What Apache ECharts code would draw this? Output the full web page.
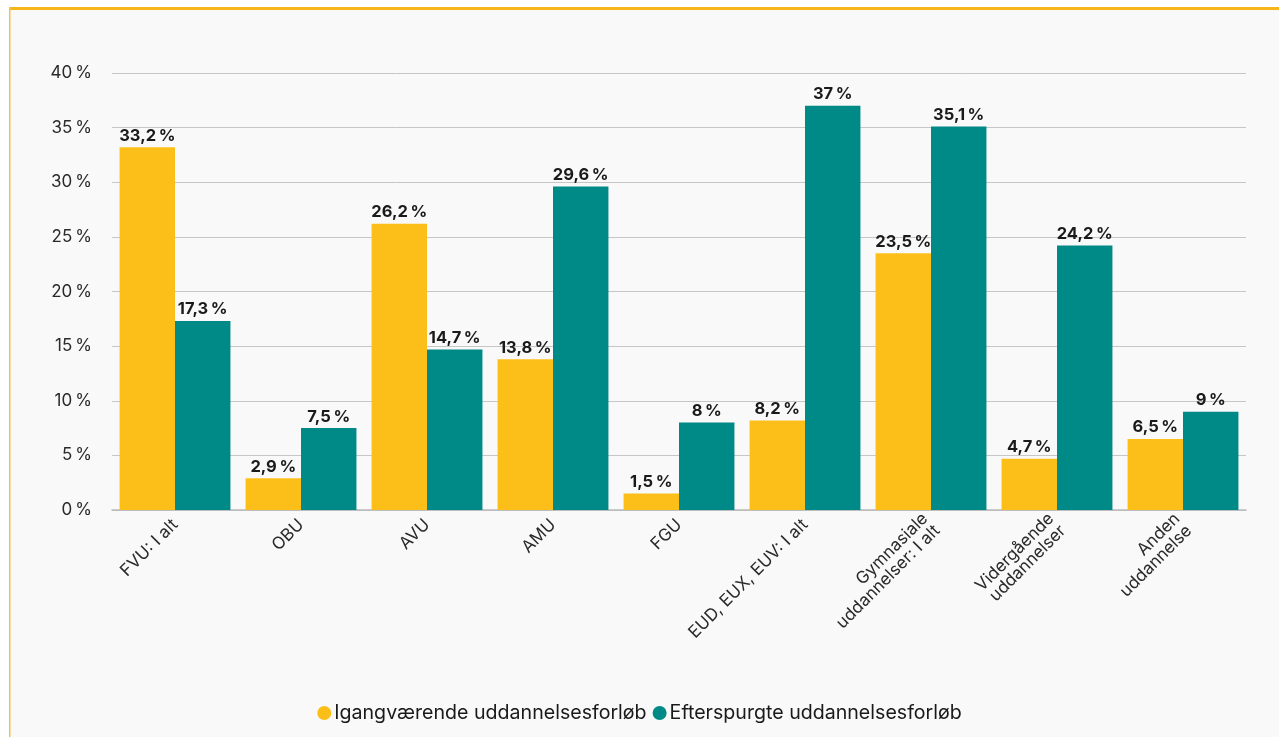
<!DOCTYPE html>
<html style="height: 100%">
<head>
    <meta charset="utf-8">
    <script src="https://cdn.jsdelivr.net/npm/echarts@6/dist/echarts.min.js"></script>
</head>
<body style="height: 100%; margin: 0; background: #fff">
    <div id="container" style="width: 1279px; height: 737px"></div>
    <script type="text/javascript">
        var categories = ['FVU: I alt', 'OBU', 'AVU', 'AMU', 'FGU', 'EUD, EUX, EUV: I alt',
            'Gymnasiale\nuddannelser: I alt', 'Vidergående\nuddannelser', 'Anden\nuddannelse'];
        var igangvaerende = [33.2, 2.9, 26.2, 13.8, 1.5, 8.2, 23.5, 4.7, 6.5];
        var efterspurgte = [17.3, 7.5, 14.7, 29.6, 8, 37, 35.1, 24.2, 9];
        var seriesNames = ['Igangværende uddannelsesforløb', 'Efterspurgte uddannelsesforløb'];

        var font = 'Inter, Roboto, sans-serif';
        function pct(v) {
            return String(v).replace('.', ',') + '\u2009%';
        }

        var myChart = echarts.init(document.getElementById('container'));
        var labelStyle = {
            show: true,
            position: 'top',
            distance: 3,
            fontFamily: font,
            fontSize: 16.5,
            fontWeight: 'bold',
            color: '#1a1a1a',
            formatter: function (p) { return pct(p.value); }
        };
        var option = {
            backgroundColor: '#fff',
            animation: false,
            graphic: [
                { type: 'rect', shape: { x: 9, y: 8, width: 1270, height: 729 }, style: { fill: '#f9f9f9' }, z: -10 },
                { type: 'rect', shape: { x: 9, y: 7, width: 1270, height: 3 }, style: { fill: '#f7b519' }, z: -9 },
                { type: 'rect', shape: { x: 9, y: 7, width: 1.5, height: 730 }, style: { fill: '#f7c04a' }, z: -9 }
            ],
            grid: { left: 112, right: 33, top: 73, bottom: 227 },
            legend: {
                bottom: 9,
                left: 'center',
                icon: 'circle',
                itemWidth: 14,
                itemHeight: 14,
                itemGap: 6,
                textStyle: { fontFamily: font, fontSize: 19.6, color: '#1a1a1a', padding: [0, 0, 0, -2] },
                data: seriesNames
            },
            xAxis: {
                type: 'category',
                data: categories,
                axisTick: { show: false },
                axisLine: { lineStyle: { color: '#bbb', width: 1.5 } },
                axisLabel: {
                    rotate: 45,
                    interval: 0,
                    margin: 12,
                    align: 'right',
                    fontFamily: font,
                    fontSize: 17,
                    color: '#2a2a2a',
                    lineHeight: 17
                }
            },
            yAxis: {
                type: 'value',
                min: 0,
                max: 40,
                interval: 5,
                axisLine: { show: false },
                axisTick: { show: false },
                splitLine: { lineStyle: { color: '#c6c6c6', width: 1 } },
                axisLabel: {
                    margin: 20,
                    fontFamily: font,
                    fontSize: 17,
                    color: '#2a2a2a',
                    formatter: function (v) { return v + '\u2009%'; }
                }
            },
            series: [{
                name: seriesNames[0],
                type: 'bar',
                data: igangvaerende,
                barGap: '0%',
                barCategoryGap: '12%',
                itemStyle: { color: '#fcbf1a' },
                label: labelStyle
            }, {
                name: seriesNames[1],
                type: 'bar',
                data: efterspurgte,
                itemStyle: { color: '#008a87' },
                label: labelStyle
            }]
        };
        myChart.setOption(option);
    </script>
</body>
</html>
